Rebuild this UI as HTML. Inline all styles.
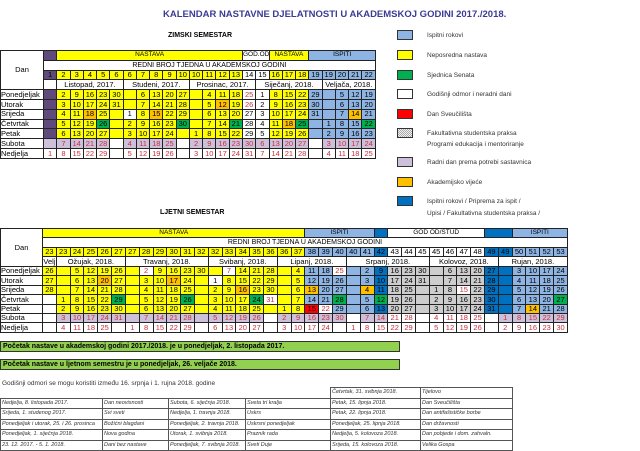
<!DOCTYPE html>
<html><head><meta charset="utf-8">
<style>
*{margin:0;padding:0;box-sizing:border-box}
body{width:640px;height:448px;background:#fff;position:relative;overflow:hidden;font-family:"Liberation Sans",Arial,sans-serif;color:#000}
.a{position:absolute;white-space:nowrap}
table{border-collapse:collapse;table-layout:fixed;position:absolute}
td{border:1px solid #222;padding:0;text-align:center;font-size:7.5px;line-height:1;overflow:hidden;white-space:nowrap}
.y{background:#ffff00}.b{background:#8db4e2}.d{background:#0070c0}.w{background:#fff}.g{background:#00b050}
.o{background:#ffc000}.r{background:#ff0000}.l{background:#ccc0da}.p{background:#604a7b}
.h{background:repeating-conic-gradient(#aaa 0 25%,#f0f0f0 0 50%) 0 0/2px 2px}
.t{color:#c8303c}
#wt tr{height:9.8px}
#st tr{height:9.45px}
.lg{position:absolute;left:397px;width:16px;height:10px;border:1px solid #333}
.lt{position:absolute;left:427px;font-size:6.5px;color:#333;white-space:nowrap}
.gb{position:absolute;left:0;width:400px;height:11px;background:#92d050;border:1px solid #333;font-size:7px;font-weight:bold;padding-left:2px;line-height:10px}
#ht td{font-size:5.5px;font-style:italic;text-align:left;padding-left:1px;border:1px solid #555;color:#333}
</style></head><body>
<div class="a" style="left:163px;top:9px;font-size:9.5px;font-weight:bold;color:#3b3b95">KALENDAR NASTAVNE DJELATNOSTI U AKADEMSKOJ GODINI 2017./2018.</div>
<div class="a" style="left:168px;top:32px;font-size:7px;font-weight:bold">ZIMSKI SEMESTAR</div>
<div class="a" style="left:160px;top:209px;font-size:7px;font-weight:bold">LJETNI SEMESTAR</div>

<table id="wt" style="left:0;top:50px;width:376px">
<colgroup><col style="width:43px"><col><col><col><col><col><col><col><col><col><col><col><col><col><col><col><col><col><col><col><col><col><col><col><col><col></colgroup>
<tr><td rowspan="4" class="w" style="font-size:7.5px">Dan</td><td class="p"></td><td colspan="14" class="y" style="font-size:6.5px">NASTAVA</td><td colspan="2" class="w" style="font-size:6.5px">GOD.OD</td><td colspan="3" class="y" style="font-size:6.5px">NASTAVA</td><td colspan="5" class="b" style="font-size:6.5px">ISPITI</td></tr>
<tr><td colspan="25" class="w" style="font-size:7px">REDNI BROJ TJEDNA U AKADEMSKOJ GODINI</td></tr>
<tr><td class="p">1</td><td class="y">2</td><td class="y">3</td><td class="y">4</td><td class="y">5</td><td class="y">6</td><td class="y">6</td><td class="y">7</td><td class="y">8</td><td class="y">9</td><td class="y">10</td><td class="y">10</td><td class="y">11</td><td class="y">12</td><td class="y">13</td><td class="w">14</td><td class="w">15</td><td class="y">16</td><td class="y">17</td><td class="y">18</td><td class="b">19</td><td class="b">19</td><td class="b">20</td><td class="b">21</td><td class="b">22</td></tr>
<tr><td class="w"></td><td colspan="5">Listopad, 2017.</td><td colspan="5">Studeni, 2017.</td><td colspan="5">Prosinac, 2017.</td><td colspan="5">Siječanj, 2018.</td><td colspan="4">Veljača, 2018.</td></tr>
<tr><td style="text-align:left">Ponedjeljak</td><td class="p"></td><td class="y">2</td><td class="y">9</td><td class="y">16</td><td class="y">23</td><td class="y">30</td><td class="y"></td><td class="y">6</td><td class="y">13</td><td class="y">20</td><td class="y">27</td><td class="y"></td><td class="y">4</td><td class="y">11</td><td class="y">18</td><td class="w t">25</td><td class="w">1</td><td class="y">8</td><td class="y">15</td><td class="y">22</td><td class="b">29</td><td class="b"></td><td class="b">5</td><td class="b">12</td><td class="b">19</td></tr>
<tr><td style="text-align:left">Utorak</td><td class="p"></td><td class="y">3</td><td class="y">10</td><td class="y">17</td><td class="y">24</td><td class="y">31</td><td class="y"></td><td class="y">7</td><td class="y">14</td><td class="y">21</td><td class="y">28</td><td class="y"></td><td class="y">5</td><td class="o">12</td><td class="y">19</td><td class="w t">26</td><td class="w">2</td><td class="y">9</td><td class="y">16</td><td class="y">23</td><td class="b">30</td><td class="b"></td><td class="b">6</td><td class="b">13</td><td class="b">20</td></tr>
<tr><td style="text-align:left">Srijeda</td><td class="p"></td><td class="y">4</td><td class="y">11</td><td class="o">18</td><td class="y">25</td><td class="y"></td><td class="w">1</td><td class="y">8</td><td class="o">15</td><td class="y">22</td><td class="y">29</td><td class="y"></td><td class="y">6</td><td class="y">13</td><td class="y">20</td><td class="w">27</td><td class="w">3</td><td class="y">10</td><td class="y">17</td><td class="y">24</td><td class="b">31</td><td class="b"></td><td class="b">7</td><td class="o">14</td><td class="b">21</td></tr>
<tr><td style="text-align:left">Četvrtak</td><td class="p"></td><td class="y">5</td><td class="y">12</td><td class="y">19</td><td class="g">26</td><td class="y"></td><td class="y">2</td><td class="y">9</td><td class="y">16</td><td class="y">23</td><td class="g">30</td><td class="y"></td><td class="y">7</td><td class="y">14</td><td class="g">21</td><td class="w">28</td><td class="w">4</td><td class="y">11</td><td class="o">18</td><td class="g">25</td><td class="b"></td><td class="b">1</td><td class="b">8</td><td class="b">15</td><td class="g">22</td></tr>
<tr><td style="text-align:left">Petak</td><td class="p"></td><td class="y">6</td><td class="y">13</td><td class="y">20</td><td class="y">27</td><td class="y"></td><td class="y">3</td><td class="y">10</td><td class="y">17</td><td class="y">24</td><td class="y"></td><td class="y">1</td><td class="y">8</td><td class="y">15</td><td class="y">22</td><td class="w">29</td><td class="w">5</td><td class="y">12</td><td class="y">19</td><td class="y">26</td><td class="b"></td><td class="b">2</td><td class="b">9</td><td class="b">16</td><td class="b">23</td></tr>
<tr class="t"><td style="text-align:left;color:#000">Subota</td><td class="l"></td><td class="l">7</td><td class="l">14</td><td class="l">21</td><td class="l">28</td><td class="w"></td><td class="l">4</td><td class="l">11</td><td class="l">18</td><td class="l">25</td><td class="w"></td><td class="l">2</td><td class="l">9</td><td class="l">16</td><td class="l">23</td><td class="l">30</td><td class="l">6</td><td class="l">13</td><td class="l">20</td><td class="l">27</td><td class="w"></td><td class="l">3</td><td class="l">10</td><td class="l">17</td><td class="l">24</td></tr>
<tr class="t"><td style="text-align:left;color:#000">Nedjelja</td><td>1</td><td>8</td><td>15</td><td>22</td><td>29</td><td></td><td>5</td><td>12</td><td>19</td><td>26</td><td></td><td>3</td><td>10</td><td>17</td><td>24</td><td>31</td><td>7</td><td>14</td><td>21</td><td>28</td><td></td><td>4</td><td>11</td><td>18</td><td>25</td></tr>
</table>

<table id="st" style="left:0;top:228px;width:568px">
<colgroup><col style="width:42px"><col><col><col><col><col><col><col><col><col><col><col><col><col><col><col><col><col><col><col><col><col><col><col><col><col><col><col><col><col><col><col><col><col><col><col><col><col><col></colgroup>
<tr><td rowspan="4" class="w">Dan</td><td colspan="19" class="y" style="font-size:6.5px">NASTAVA</td><td colspan="5" class="b" style="font-size:6.5px">ISPITI</td><td class="d"></td><td colspan="7" class="w" style="font-size:6.5px">GOD OD/STUD</td><td colspan="2" class="d"></td><td colspan="4" class="b" style="font-size:6.5px">ISPITI</td></tr>
<tr><td colspan="38" class="w" style="font-size:7px">REDNI BROJ TJEDNA U AKADEMSKOJ GODINI</td></tr>
<tr><td class="y">23</td><td class="y">23</td><td class="y">24</td><td class="y">25</td><td class="y">26</td><td class="y">27</td><td class="y">27</td><td class="y">28</td><td class="y">29</td><td class="y">30</td><td class="y">31</td><td class="y">32</td><td class="y">32</td><td class="y">33</td><td class="y">34</td><td class="y">35</td><td class="y">36</td><td class="y">36</td><td class="y">37</td><td class="b">38</td><td class="b">39</td><td class="b">40</td><td class="b">40</td><td class="b">41</td><td class="d">42</td><td class="w">43</td><td class="w">44</td><td class="w">45</td><td class="w">45</td><td class="w">46</td><td class="w">47</td><td class="w">48</td><td class="d">49</td><td class="d">49</td><td class="b">50</td><td class="b">51</td><td class="b">52</td><td class="b">53</td></tr>
<tr><td>Velj</td><td colspan="5">Ožujak, 2018.</td><td colspan="6">Travanj, 2018.</td><td colspan="5">Svibanj, 2018.</td><td colspan="5">Lipanj, 2018.</td><td colspan="6">Srpanj, 2018.</td><td colspan="5">Kolovoz, 2018.</td><td colspan="5">Rujan, 2018.</td></tr>
<tr><td style="text-align:left">Ponedjeljak</td><td class="y">26</td><td class="y"></td><td class="y">5</td><td class="y">12</td><td class="y">19</td><td class="y">26</td><td class="y"></td><td class="w t">2</td><td class="y">9</td><td class="y">16</td><td class="y">23</td><td class="y">30</td><td class="y"></td><td class="w t">7</td><td class="y">14</td><td class="y">21</td><td class="y">28</td><td class="y"></td><td class="y">4</td><td class="b">11</td><td class="b">18</td><td class="w t">25</td><td class="b"></td><td class="b">2</td><td class="d">9</td><td class="h">16</td><td class="h">23</td><td class="h">30</td><td class="h"></td><td class="h">6</td><td class="h">13</td><td class="h">20</td><td class="d">27</td><td class="d"></td><td class="b">3</td><td class="b">10</td><td class="b">17</td><td class="b">24</td></tr>
<tr><td style="text-align:left">Utorak</td><td class="y">27</td><td class="y"></td><td class="y">6</td><td class="y">13</td><td class="o">20</td><td class="y">27</td><td class="y"></td><td class="y">3</td><td class="y">10</td><td class="o">17</td><td class="y">24</td><td class="y"></td><td class="w">1</td><td class="y">8</td><td class="y">15</td><td class="y">22</td><td class="y">29</td><td class="y"></td><td class="y">5</td><td class="b">12</td><td class="b">19</td><td class="b">26</td><td class="b"></td><td class="b">3</td><td class="d">10</td><td class="h">17</td><td class="h">24</td><td class="h">31</td><td class="h"></td><td class="h">7</td><td class="h">14</td><td class="h">21</td><td class="d">28</td><td class="d"></td><td class="b">4</td><td class="b">11</td><td class="b">18</td><td class="b">25</td></tr>
<tr><td style="text-align:left">Srijeda</td><td class="y">28</td><td class="y"></td><td class="y">7</td><td class="y">14</td><td class="y">21</td><td class="y">28</td><td class="y"></td><td class="y">4</td><td class="y">11</td><td class="y">18</td><td class="y">25</td><td class="y"></td><td class="y">2</td><td class="y">9</td><td class="o">16</td><td class="y">23</td><td class="y">30</td><td class="y"></td><td class="y">6</td><td class="o">13</td><td class="b">20</td><td class="b">27</td><td class="b"></td><td class="o">4</td><td class="d">11</td><td class="h">18</td><td class="h">25</td><td class="h"></td><td class="h">1</td><td class="h">8</td><td class="w t">15</td><td class="h">22</td><td class="d">29</td><td class="d"></td><td class="b">5</td><td class="b">12</td><td class="b">19</td><td class="b">26</td></tr>
<tr><td style="text-align:left">Četvrtak</td><td class="w"></td><td class="y">1</td><td class="y">8</td><td class="y">15</td><td class="y">22</td><td class="g">29</td><td class="y"></td><td class="y">5</td><td class="y">12</td><td class="y">19</td><td class="g">26</td><td class="y"></td><td class="y">3</td><td class="y">10</td><td class="y">17</td><td class="g">24</td><td class="w t">31</td><td class="y"></td><td class="y">7</td><td class="b">14</td><td class="b">21</td><td class="g">28</td><td class="b"></td><td class="b">5</td><td class="g">12</td><td class="h">19</td><td class="h">26</td><td class="h"></td><td class="h">2</td><td class="h">9</td><td class="h">16</td><td class="h">23</td><td class="d">30</td><td class="d"></td><td class="b">6</td><td class="b">13</td><td class="b">20</td><td class="g">27</td></tr>
<tr><td style="text-align:left">Petak</td><td class="w"></td><td class="y">2</td><td class="y">9</td><td class="y">16</td><td class="y">23</td><td class="y">30</td><td class="y"></td><td class="y">6</td><td class="y">13</td><td class="y">20</td><td class="y">27</td><td class="y"></td><td class="y">4</td><td class="y">11</td><td class="y">18</td><td class="y">25</td><td class="y"></td><td class="y">1</td><td class="y">8</td><td class="r">15</td><td class="w t">22</td><td class="b">29</td><td class="b"></td><td class="b">6</td><td class="d">13</td><td class="h">20</td><td class="h">27</td><td class="h"></td><td class="h">3</td><td class="h">10</td><td class="h">17</td><td class="h">24</td><td class="d">31</td><td class="d"></td><td class="b">7</td><td class="o">14</td><td class="b">21</td><td class="b">28</td></tr>
<tr class="t"><td style="text-align:left;color:#000">Subota</td><td class="w"></td><td class="l">3</td><td class="l">10</td><td class="l">17</td><td class="l">24</td><td class="l">31</td><td class="l"></td><td class="l">7</td><td class="l">14</td><td class="l">21</td><td class="l">28</td><td class="l"></td><td class="l">5</td><td class="l">12</td><td class="l">19</td><td class="l">26</td><td class="w"></td><td class="l">2</td><td class="l">9</td><td class="l">16</td><td class="l">23</td><td class="l">30</td><td class="w"></td><td class="l">7</td><td class="l">14</td><td class="w">21</td><td class="w">28</td><td class="w"></td><td class="w">4</td><td class="w">11</td><td class="w">18</td><td class="w">25</td><td class="w"></td><td class="l">1</td><td class="l">8</td><td class="l">15</td><td class="l">22</td><td class="l">29</td></tr>
<tr class="t"><td style="text-align:left;color:#000">Nedjelja</td><td></td><td>4</td><td>11</td><td>18</td><td>25</td><td></td><td>1</td><td>8</td><td>15</td><td>22</td><td>29</td><td></td><td>6</td><td>13</td><td>20</td><td>27</td><td></td><td>3</td><td>10</td><td>17</td><td>24</td><td></td><td>1</td><td>8</td><td>15</td><td>22</td><td>29</td><td></td><td>5</td><td>12</td><td>19</td><td>26</td><td></td><td>2</td><td>9</td><td>16</td><td>23</td><td>30</td></tr>
</table>

<!-- legend -->
<div class="lg b" style="top:30px"></div><div class="lt" style="top:32px">Ispitni rokovi</div>
<div class="lg y" style="top:50px"></div><div class="lt" style="top:52px">Neposredna nastava</div>
<div class="lg g" style="top:70px"></div><div class="lt" style="top:72px">Sjednica Senata</div>
<div class="lg w" style="top:89px"></div><div class="lt" style="top:91px">Godišnji odmor i neradni dani</div>
<div class="lg r" style="top:109px"></div><div class="lt" style="top:111px">Dan Sveučilišta</div>
<div class="lg h" style="top:128px"></div><div class="lt" style="top:130px">Fakultativna studentska praksa</div>
<div class="lt" style="top:141px">Programi edukacija i mentoriranje</div>
<div class="lg l" style="top:157px"></div><div class="lt" style="top:159px">Radni dan prema potrebi sastavnica</div>
<div class="lg o" style="top:177px"></div><div class="lt" style="top:179px">Akademijsko vijeće</div>
<div class="lg d" style="top:196px"></div><div class="lt" style="top:198px">Ispitni rokovi / Priprema za ispit /</div>
<div class="lt" style="top:210px">Upisi / Fakultativna studentska praksa /</div>

<div class="gb" style="top:341px">Početak nastave u akademskoj godini 2017./2018. je u ponedjeljak, 2. listopada 2017.</div>
<div class="gb" style="top:359px">Početak nastave u ljetnom semestru je u ponedjeljak, 26. veljače 2018.</div>
<div class="a" style="left:2px;top:380px;font-size:6.5px;color:#333">Godišnji odmori se mogu koristiti između 16. srpnja i 1. rujna 2018. godine</div>

<table id="ht" style="left:0;top:387px;width:512px">
<colgroup><col style="width:102px"><col style="width:66px"><col style="width:77px"><col style="width:85px"><col style="width:90px"><col style="width:92px"></colgroup>
<tr style="height:10.5px"><td style="border:none"></td><td style="border:none"></td><td style="border:none"></td><td style="border:none;border-right:1px solid #555"></td><td>Četvrtak, 31. svibnja 2018.</td><td>Tijelovo</td></tr>
<tr style="height:10.5px"><td>Nedjelja, 8. listopada 2017.</td><td>Dan neovisnosti</td><td>Subota, 6. siječnja 2018.</td><td>Sveta tri kralja</td><td>Petak, 15. lipnja 2018.</td><td>Dan Sveučilišta</td></tr>
<tr style="height:10.5px"><td>Srijeda, 1. studenog 2017.</td><td>Svi sveti</td><td>Nedjelja, 1. travnja 2018.</td><td>Uskrs</td><td>Petak, 22. lipnja 2018.</td><td>Dan antifašističke borbe</td></tr>
<tr style="height:10.5px"><td>Ponedjeljak i utorak, 25. i 26. prosinca</td><td>Božićni blagdani</td><td>Ponedjeljak, 2. travnja 2018.</td><td>Uskrsni ponedjeljak</td><td>Ponedjeljak, 25. lipnja 2018.</td><td>Dan državnosti</td></tr>
<tr style="height:10.5px"><td>Ponedjeljak, 1. siječnja 2018.</td><td>Nova godina</td><td>Utorak, 1. svibnja 2018.</td><td>Praznik rada</td><td>Nedjelja, 5. kolovoza 2018.</td><td>Dan pobjede i dom. zahvaln.</td></tr>
<tr style="height:10.5px"><td>23. 12. 2017. - 5. 1. 2018.</td><td>Dani bez nastave</td><td>Ponedjeljak, 7. svibnja 2018.</td><td>Sveti Duje</td><td>Srijeda, 15. kolovoza 2018.</td><td>Velika Gospa</td></tr>
</table>
</body></html>
